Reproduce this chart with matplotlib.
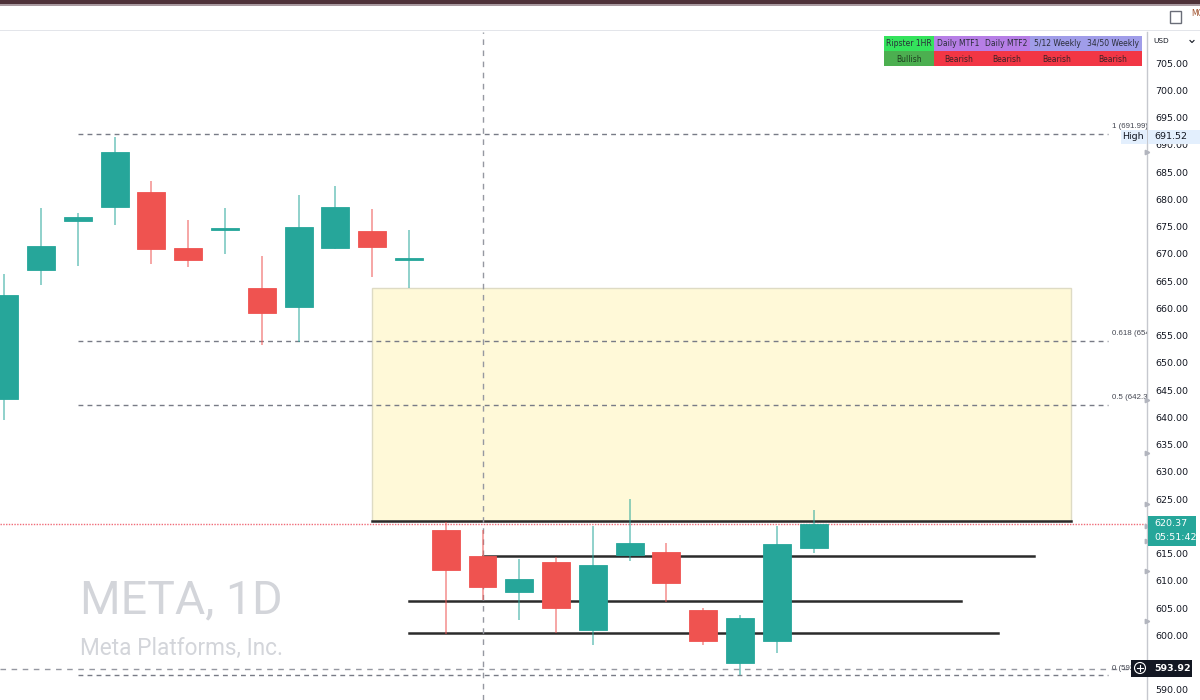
import numpy as np
import matplotlib
matplotlib.use("Agg")
import matplotlib.pyplot as plt
from matplotlib.patches import Rectangle, Circle, Polygon
from matplotlib.lines import Line2D

# ---------------- data ----------------
opens  = [643.4, 667.0, 676.0, 678.5, 681.4, 671.0, 674.4, 663.7, 660.3, 671.0, 674.2, 668.9,
          619.3, 614.6, 607.9, 613.4, 601.0, 614.7, 615.3, 604.7, 594.9, 598.9, 616.0]
highs  = [666.3, 678.4, 677.5, 691.52, 683.4, 676.2, 678.4, 669.6, 680.7, 682.5, 678.2, 674.3,
          620.9, 619.3, 614.0, 614.3, 620.0, 625.0, 616.9, 605.1, 603.8, 620.0, 623.0]
lows   = [639.5, 664.3, 667.8, 675.2, 668.1, 667.5, 669.9, 653.2, 653.9, 670.8, 665.7, 663.8,
          600.3, 606.5, 602.8, 600.4, 598.3, 613.7, 606.2, 598.3, 592.8, 596.7, 615.2]
closes = [662.5, 671.5, 676.8, 688.6, 670.9, 668.9, 674.7, 659.1, 675.0, 678.5, 671.3, 669.2,
          612.0, 608.8, 610.4, 605.0, 612.9, 616.9, 609.7, 598.9, 603.2, 616.7, 620.37]

fib_high, fib_low = 691.99, 592.70
fib_levels = [1, 0.618, 0.5, 0]
fib_start, fib_end = 2, 30

zone_top, zone_bottom = 663.8, 621.0
zone_start, zone_end = 10, 29

level_prices = [614.6, 606.4, 600.4]
level_starts = [13, 11, 11]
level_ends   = [28, 26, 27]

last_price = 620.37
countdown = "05:51:42"
cross_price = 593.92
cross_bar = 13.02
high_price = 691.52

y_ticks = list(range(590, 710, 5))
hidden_ticks = [595, 620]          # covered by the price labels in the reference

scale_marks = [688.6, 643.1, 633.5, 624.2, 620.0, 617.4, 611.8, 602.6]

table_headers = ["Ripster 1HR", "Daily MTF1", "Daily MTF2", "5/12 Weekly", "34/50 Weekly"]
table_states = ["Bullish", "Bearish", "Bearish", "Bearish", "Bearish"]

symbol_text = "META, 1D"
company_text = "Meta Platforms, Inc."

# ---------------- style ----------------
UP, DOWN = '#26a69a', '#ef5350'
W, H = 1200, 700
fig = plt.figure(figsize=(12, 7), dpi=100)
fig.patch.set_facecolor('white')
T = fig.dpi_scale_trans


def P(x, y):
    return x / 100.0, (H - y) / 100.0


def rect_px(x0, y0, x1, y1, **kw):
    r = Rectangle(P(x0, y1), (x1 - x0) / 100.0, (y1 - y0) / 100.0, transform=T, **kw)
    fig.add_artist(r)
    return r


def text_px(x, y, s, **kw):
    return fig.text(*P(x, y), s, transform=T, **kw)


ax = fig.add_axes([0, 0, 1147 / 1200, 668 / 700])
ax.set_facecolor('white')
ax.set_xlim(-0.114, 31.06)
ax.set_ylim(588.16, 710.69)
for s in ['top', 'left', 'bottom']:
    ax.spines[s].set_visible(False)
ax.spines['right'].set_color('#c6c8ce')
ax.spines['right'].set_linewidth(1)
ax.set_xticks([])
ax.yaxis.tick_right()
ax.set_yticks(y_ticks)
ax.set_yticklabels(["" if v in hidden_ticks else f"{v:.2f}" for v in y_ticks])
ax.tick_params(axis='y', length=0, pad=6, labelsize=6.8, labelcolor='#131722')
for lab in ax.get_yticklabels():
    lab.set_fontfamily('DejaVu Sans')

# watermark
ax.text(2.05, 606.5, symbol_text, fontsize=33.5, color='#d3d5da', family='Roboto',
        ha='left', va='center', zorder=0)
ax.text(2.05, 597.6, company_text, fontsize=16.3, color='#d3d5da', family='Roboto',
        ha='left', va='center', zorder=0)

# zone
ax.add_patch(Rectangle((zone_start, zone_bottom), zone_end - zone_start, zone_top - zone_bottom,
                       facecolor='#fff9d8', edgecolor='#dedbc4', lw=1.0, zorder=1))
ax.plot([zone_start, zone_end], [zone_bottom, zone_bottom], color='#2a2a2a', lw=1.8, zorder=2)

# fib lines
for lv in fib_levels:
    price = fib_low + lv * (fib_high - fib_low)
    ax.plot([fib_start, fib_end], [price, price], color='#787b86', lw=1.0,
            linestyle=(0, (3.5, 3)), zorder=2)
    ax.annotate(f"{lv:g} ({price:.2f})", xy=(30.12, price), xytext=(0, 2.5),
                textcoords='offset points', fontsize=5.7, color='#434651', family='Liberation Sans',
                ha='left', va='bottom', annotation_clip=False, clip_on=True)

# horizontal levels
for p, s0, s1 in zip(level_prices, level_starts, level_ends):
    ax.plot([s0, s1], [p, p], color='#2b2b2b', lw=1.8, zorder=2)

# current price line
ax.axhline(last_price, color='#f06b78', lw=1.0, linestyle=(0, (1, 1)), zorder=2)

# crosshair
ax.axvline(cross_bar, color='#9598a1', lw=1.0, linestyle=(0, (4, 4)), zorder=2)
ax.axhline(cross_price, color='#9598a1', lw=1.0, linestyle=(0, (4, 4)), zorder=2)

# candles
x = np.arange(len(opens))
for i in x:
    o, h, l, c = opens[i], highs[i], lows[i], closes[i]
    col = UP if c >= o else DOWN
    ax.vlines(i, l, h, color=col, lw=1.1, alpha=0.65, zorder=3)
    bot = min(o, c)
    ht = max(abs(c - o), 0.35)
    ax.bar(i, ht, bottom=bot, width=0.76, color=col, edgecolor=col, lw=0.6, zorder=4)

# small markers on the price scale
for m in scale_marks:
    ax.plot([1.0], [m], transform=ax.get_yaxis_transform(), marker='>', markersize=3.2,
            color='#b2b5be', clip_on=False, zorder=5)

# ---------------- chrome ----------------
rect_px(0, 0, 1200, 4, facecolor='#4e3239', edgecolor='none', zorder=10)
rect_px(0, 4, 1200, 5.5, facecolor='#a99aa0', edgecolor='none', zorder=10)
rect_px(0, 29.5, 1200, 31, facecolor='#e3e5ea', edgecolor='none', zorder=10)
rect_px(1169.5, 11, 1181, 23, facecolor='none', edgecolor='#6a6d78', lw=1.0, zorder=10)
text_px(1191, 13, "MC", fontsize=5.5, color='#a0522d', ha='left', va='center', zorder=10)

# USD selector
text_px(1153, 41, "USD", fontsize=5.3, color='#131722', ha='left', va='center', zorder=10)
fig.add_artist(Line2D([11.90, 11.92, 11.94], [(H - 40.5) / 100, (H - 42.5) / 100, (H - 40.5) / 100],
                      transform=T, color='#131722', lw=0.8, zorder=10))

# table
col_edges = [884, 934, 983, 1030, 1084, 1142]
row_edges = [36, 51, 66]
hdr_colors = ['#34e35c', '#b67ee6', '#b67ee6', '#a09de9', '#a09de9']
state_colors = ['#4caf50' if s == 'Bullish' else '#f23645' for s in table_states]
for j in range(len(table_headers)):
    x0, x1 = col_edges[j], col_edges[j + 1]
    rect_px(x0, row_edges[0], x1, row_edges[1], facecolor=hdr_colors[j], edgecolor='none', zorder=10)
    rect_px(x0, row_edges[1], x1, row_edges[2], facecolor=state_colors[j], edgecolor='none', zorder=10)
    text_px((x0 + x1) / 2, (row_edges[0] + row_edges[1]) / 2 + 0.5, table_headers[j], fontsize=5.5,
            color='#2a2e39', ha='center', va='center', zorder=11)
    text_px((x0 + x1) / 2, (row_edges[1] + row_edges[2]) / 2 + 0.5, table_states[j], fontsize=5.5,
            color='#3b2326' if table_states[j] == 'Bearish' else '#1e3d20',
            ha='center', va='center', zorder=11)

# High label
rect_px(1121, 129.5, 1147, 143.5, facecolor='#e3effd', edgecolor='none', zorder=10)
text_px(1144, 136.5, "High", fontsize=6.8, color='#131722', ha='right', va='center', zorder=11)
rect_px(1148, 129.5, 1200, 143.5, facecolor='#e3effd', edgecolor='none', zorder=10)
text_px(1154, 136.5, f"{high_price:.2f}", fontsize=6.8, color='#131722', ha='left', va='center', zorder=11)

# last price label
rect_px(1148, 516, 1196, 546, facecolor=UP, edgecolor='none', zorder=10)
text_px(1154, 524, f"{last_price:.2f}", fontsize=6.8, color='white', ha='left', va='center', zorder=11)
text_px(1154, 538, countdown, fontsize=6.8, color='white', ha='left', va='center', zorder=11)

# crosshair price label
rect_px(1131, 659.5, 1192, 677, facecolor='#131722', edgecolor='none', zorder=10)
fig.add_artist(Circle(P(1140, 668), 0.055, transform=T, facecolor='none', edgecolor='white', lw=0.8, zorder=11))
fig.add_artist(Line2D([11.37, 11.43], [(H - 668) / 100] * 2, transform=T, color='white', lw=0.8, zorder=11))
fig.add_artist(Line2D([11.40, 11.40], [(H - 665) / 100, (H - 671) / 100], transform=T, color='white', lw=0.8, zorder=11))
text_px(1154, 668.5, f"{cross_price:.2f}", fontsize=6.8, color='white', ha='left', va='center',
        fontweight='bold', zorder=11)

fig.savefig('out.png', dpi=100)
